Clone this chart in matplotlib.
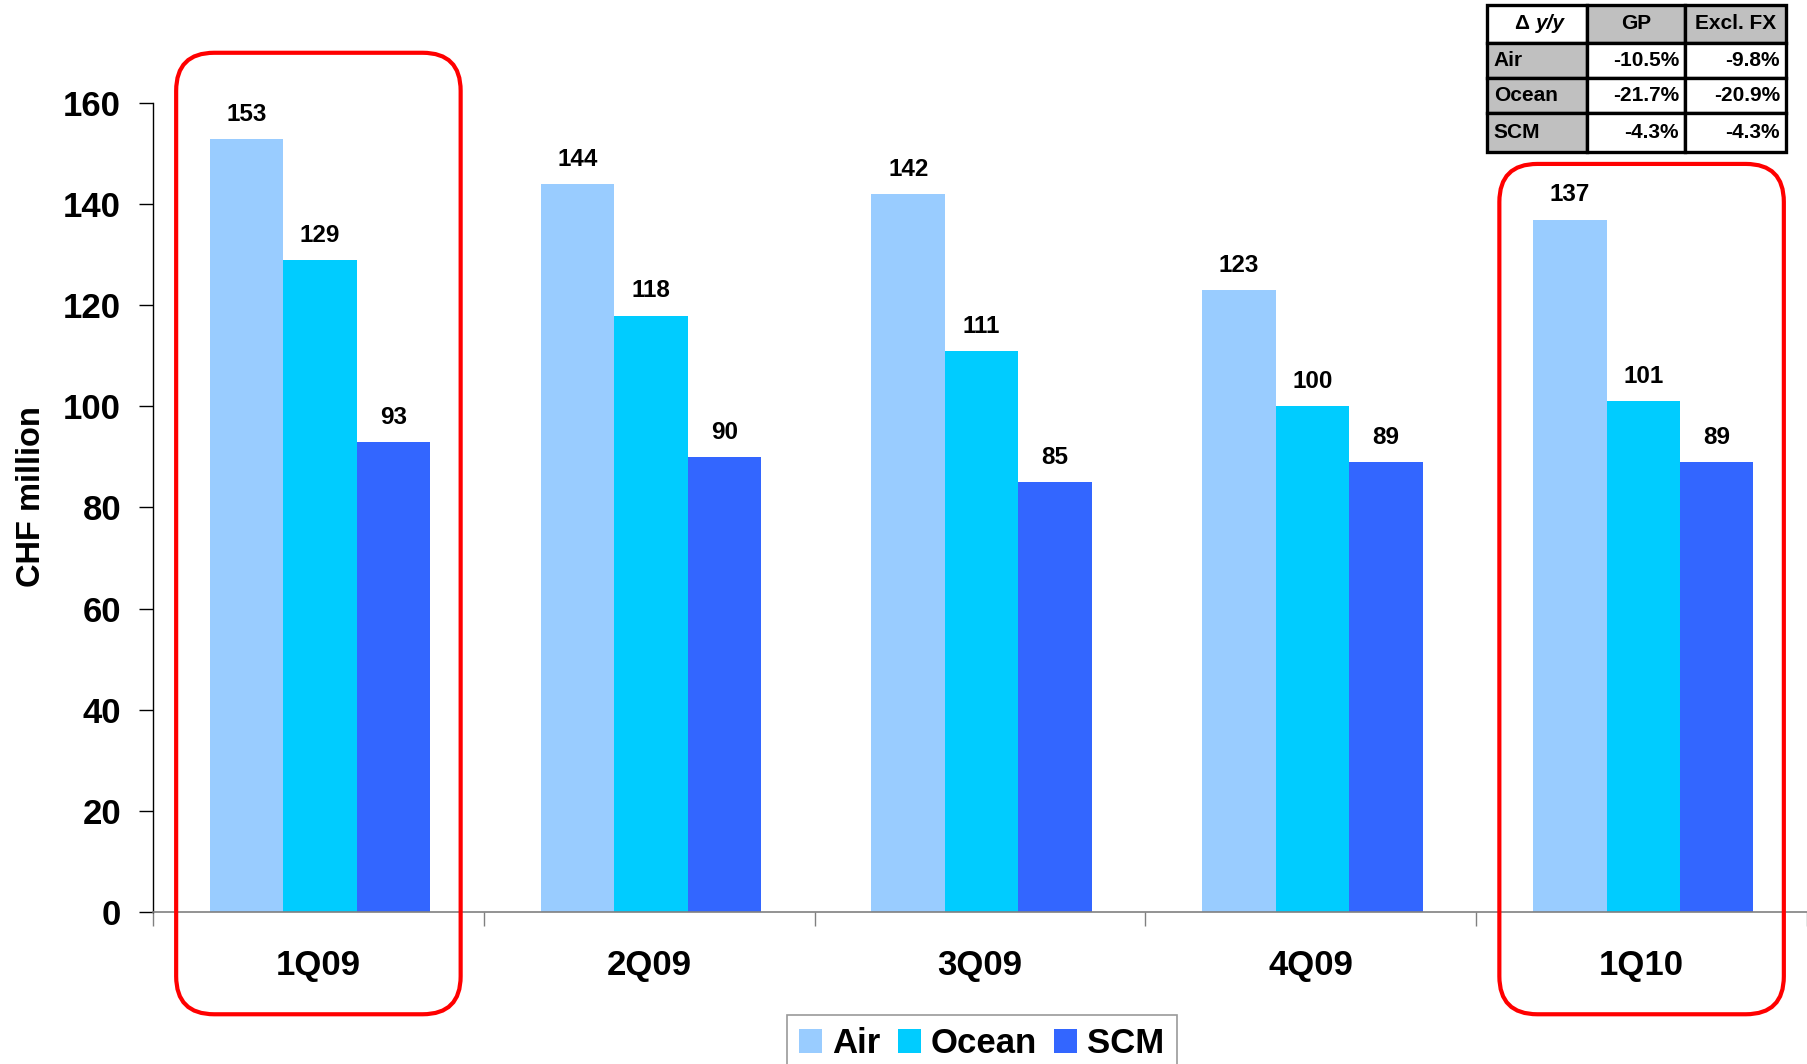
import matplotlib
matplotlib.use("Agg")
import matplotlib.pyplot as plt
from matplotlib.patches import FancyBboxPatch, Rectangle
import numpy as np

plt.rcParams['font.family'] = ['Liberation Sans', 'DejaVu Sans']
plt.rcParams['font.weight'] = 'bold'

# ---- data ----
categories = ["1Q09", "2Q09", "3Q09", "4Q09", "1Q10"]
series_names = ["Air", "Ocean", "SCM"]
air = [153, 144, 142, 123, 137]
ocean = [129, 118, 111, 100, 101]
scm = [93, 90, 85, 89, 89]
y_ticks = [0, 20, 40, 60, 80, 100, 120, 140, 160]
y_label = "CHF million"

highlight_idx = [0, 4]
table_header = ["GP", "Excl. FX"]
table_rows = ["Air", "Ocean", "SCM"]
table_gp = ["-10.5%", "-21.7%", "-4.3%"]
table_fx = ["-9.8%", "-20.9%", "-4.3%"]

colors = ["#99CCFF", "#00CCFF", "#3366FF"]

W, H = 1807, 1064
DPI = 100
fig = plt.figure(figsize=(W / DPI, H / DPI), dpi=DPI)

ax_l, ax_b, ax_r, ax_t = 153, 1064 - 911.7, 1807, 1064 - 103.3
ax = fig.add_axes([ax_l / W, ax_b / H, (ax_r - ax_l) / W, (ax_t - ax_b) / H])

x = np.arange(len(categories))
bw = 0.222
for i, (vals, name) in enumerate(zip([air, ocean, scm], series_names)):
    pos = x + (i - 1) * bw + 0.005
    ax.bar(pos, vals, width=bw, color=colors[i], label=name, zorder=2)
    for px_, v in zip(pos, vals):
        ax.annotate(str(v), (px_, v), xytext=(0, 13), textcoords="offset points",
                    ha="center", va="baseline", fontsize=17.5, fontweight="bold")

ax.set_xlim(-0.5, len(categories) - 0.5)
ax.set_ylim(0, 160)
ax.set_yticks(y_ticks)
ax.set_yticklabels([str(t) for t in y_ticks], fontsize=25, fontweight="bold")
ax.tick_params(axis="y", direction="out", length=10, width=1, pad=13, colors="black")
ax.set_xticks(x)
ax.set_xticklabels(categories, fontsize=25, fontweight="bold")
ax.tick_params(axis="x", which="major", length=0, pad=27)
ax.set_xticks(np.arange(len(categories) + 1) - 0.5, minor=True)
ax.tick_params(axis="x", which="minor", direction="out", length=10, width=1, color="#808080")

for s in ["top", "right"]:
    ax.spines[s].set_visible(False)
ax.spines["left"].set_color("black")
ax.spines["left"].set_linewidth(1)
ax.spines["bottom"].set_color("#808080")
ax.spines["bottom"].set_linewidth(1.2)

fig.text(31 / W, 1 - 497 / H, y_label, rotation=90, ha="center", va="center",
         fontsize=23.5, fontweight="bold")

# ---- highlight boxes ----
px_per_x = (ax_r - ax_l) / (len(categories))
px_per_y = (ax_t - ax_b) / 160.0
aspect = px_per_x / px_per_y
box_tops = [170, 148]
box_bottom = -20.3
half = 0.43
rad_px = 38
for idx, top in zip(highlight_idx, box_tops):
    p = FancyBboxPatch((idx - half, box_bottom), 2 * half, top - box_bottom,
                       boxstyle=f"round,pad=0,rounding_size={rad_px / px_per_x}",
                       mutation_aspect=aspect, transform=ax.transData,
                       fill=False, edgecolor="#FF0000", linewidth=3, clip_on=False, zorder=5)
    ax.add_patch(p)

# ---- legend ----
leg = fig.legend(loc="upper center", bbox_to_anchor=(982 / W, 1 - 1015 / H), ncol=3,
                 prop={"size": 25, "weight": "bold"}, frameon=True, fancybox=False,
                 edgecolor="#808080", handlelength=0.66, handleheight=0.66,
                 handletextpad=0.29, columnspacing=0.5, borderpad=0.35, borderaxespad=0)
leg.get_frame().set_linewidth(1.2)

# ---- table ----
tx0, ty0, tx1, ty1 = 1487, 5, 1786, 152
tax = fig.add_axes([tx0 / W, 1 - ty1 / H, (tx1 - tx0) / W, (ty1 - ty0) / H])
tax.set_xlim(0, 1)
tax.set_ylim(1, 0)
tax.axis("off")
col_edges = [0, 0.3344, 0.6622, 1.0]
row_edges = [0, 0.2585, 0.4966, 0.7347, 1.0]
gray = "#C0C0C0"
for r in range(4):
    for c in range(3):
        if r == 0:
            fc = "white" if c == 0 else gray
        else:
            fc = gray if c == 0 else "white"
        tax.add_patch(Rectangle((col_edges[c], row_edges[r]),
                                col_edges[c + 1] - col_edges[c],
                                row_edges[r + 1] - row_edges[r],
                                facecolor=fc, edgecolor="black", linewidth=2.4, clip_on=False))
fs = 15
hy = (row_edges[0] + row_edges[1]) / 2
tax.text(0.140, hy, "Δ", ha="right", va="center", fontsize=fs, fontweight="bold")
tax.text(0.165, hy, "y/y", ha="left", va="center", fontsize=fs, fontweight="bold", style="italic")
for c, h in enumerate(table_header):
    tax.text((col_edges[c + 1] + col_edges[c + 2]) / 2, hy, h, ha="center", va="center",
             fontsize=fs, fontweight="bold")
for r, (name, gp, fx) in enumerate(zip(table_rows, table_gp, table_fx)):
    cy = (row_edges[r + 1] + row_edges[r + 2]) / 2
    tax.text(col_edges[0] + 0.023, cy, name, ha="left", va="center", fontsize=fs, fontweight="bold")
    tax.text(col_edges[2] - 0.02, cy, gp, ha="right", va="center", fontsize=fs, fontweight="bold")
    tax.text(col_edges[3] - 0.02, cy, fx, ha="right", va="center", fontsize=fs, fontweight="bold")

fig.savefig("out.png", dpi=DPI)
